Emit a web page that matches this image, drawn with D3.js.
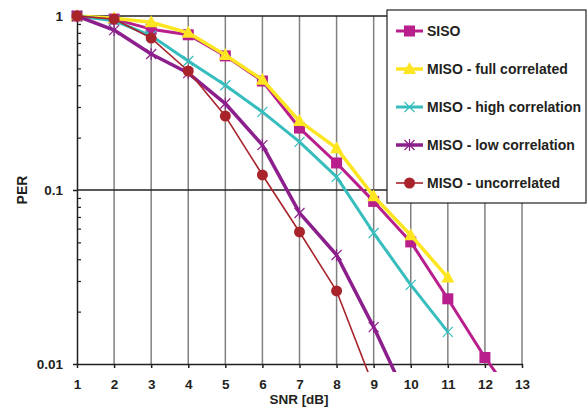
<!DOCTYPE html>
<html><head><meta charset="utf-8">
<script src="https://cdn.jsdelivr.net/npm/d3@7/dist/d3.min.js"></script>
<style>body{margin:0;background:#fff}svg{display:block}text{font-family:"Liberation Sans",Arial,sans-serif;font-weight:bold;fill:#231f20}</style>
</head><body><svg id="c" width="588" height="408"></svg>
<script>
const snr = [1,2,3,4,5,6,7,8,9,10,11,12,13];
const xTicks = [1,2,3,4,5,6,7,8,9,10,11,12,13];
const yTicks = [0.01,0.1,1];
const yTickLabels = ["0.01","0.1","1"];
const siso      = [1,0.96,0.84,0.78,0.59,0.423,0.227,0.143,0.086,0.0503,0.0237,0.0109,0.0055];
const fullCorr  = [1,0.97,0.92,0.80,0.597,0.43,0.249,0.174,0.092,0.055,0.0314];
const highCorr  = [1,0.94,0.77,0.551,0.40,0.281,0.189,0.119,0.0566,0.0285,0.0153];
const lowCorr   = [1,0.83,0.605,0.47,0.314,0.181,0.0738,0.0423,0.0163,0.0057];
const uncorr    = [1,0.96,0.747,0.483,0.266,0.122,0.0574,0.0263,0.0074];
const seriesNames = ["SISO","MISO - full correlated","MISO - high correlation","MISO - low correlation","MISO - uncorrelated"];

const series = [
  {name:seriesNames[0], vals:siso, color:"#b81e8c", w:3, marker:"square"},
  {name:seriesNames[1], vals:fullCorr, color:"#fde521", w:3.5, marker:"triangle"},
  {name:seriesNames[2], vals:highCorr, color:"#36bdbd", w:3, marker:"x"},
  {name:seriesNames[3], vals:lowCorr, color:"#8c1f8c", w:3.5, marker:"star"},
  {name:seriesNames[4], vals:uncorr, color:"#a8232a", w:1.6, marker:"circle"}
];

const FONT = "13.5px";
const svg = d3.select("#c");
const x = d3.scaleLinear().domain([1,13]).range([77,522]);
const y = d3.scaleLog().domain([0.01,1]).range([364,16]);

// vertical grid
svg.append("g").selectAll("line").data(xTicks.slice(1)).join("line")
  .attr("x1",d=>x(d)).attr("x2",d=>x(d)).attr("y1",y(1)).attr("y2",y(0.01))
  .attr("stroke","#808080").attr("stroke-width",1.5);
// horizontal grid
svg.append("g").selectAll("line").data([0.1,1]).join("line")
  .attr("x1",x(1)).attr("x2",x(13)).attr("y1",d=>y(d)).attr("y2",d=>y(d))
  .attr("stroke","#231f20").attr("stroke-width",1.5);

// minor y ticks
const minor = [];
[0.01,0.1].forEach(b=>{for(let k=2;k<10;k++) minor.push(b*k);});
const gMinor = svg.append("g").attr("transform",`translate(${x(1)},0)`)
  .call(d3.axisLeft(y).tickValues(minor).tickSize(-4).tickFormat(""));
gMinor.select(".domain").remove();
gMinor.selectAll("line").attr("stroke","#231f20").attr("stroke-width",1.2);

// y axis
const gy = svg.append("g").attr("transform",`translate(${x(1)},0)`)
  .call(d3.axisLeft(y).tickValues(yTicks).tickSize(4).tickPadding(10).tickSizeOuter(0)
    .tickFormat((d,i)=>yTickLabels[i]));
gy.select(".domain").attr("stroke","#231f20").attr("stroke-width",1.5);
gy.selectAll("line").attr("stroke","#231f20").attr("stroke-width",1.5);
gy.selectAll("text").style("font-size",FONT).style("font-family",'"Liberation Sans",Arial,sans-serif').style("font-weight","bold").attr("fill","#231f20");

// x axis
const gx = svg.append("g").attr("transform",`translate(0,${y(0.01)})`)
  .call(d3.axisBottom(x).tickValues(xTicks).tickSize(4).tickPadding(11).tickSizeOuter(0).tickFormat(d3.format("d")));
gx.select(".domain").attr("stroke","#231f20").attr("stroke-width",1.5);
gx.selectAll("line").attr("stroke","#231f20").attr("stroke-width",1.5);
gx.selectAll("text").style("font-size",FONT).style("font-family",'"Liberation Sans",Arial,sans-serif').style("font-weight","bold").attr("fill","#231f20");

// axis titles
svg.append("text").attr("x",299).attr("y",404).attr("text-anchor","middle").style("font-size","13.5px").text("SNR [dB]");
svg.append("text").attr("transform","translate(27,190) rotate(-90)").attr("text-anchor","middle").style("font-size","14px").text("PER");

// clip
svg.append("clipPath").attr("id","clip").append("rect").attr("x",0).attr("y",0).attr("width",588).attr("height",372);

function drawMarker(g, type, cx, cy, color){
  if(type==="square") g.append("rect").attr("x",cx-5.5).attr("y",cy-5.5).attr("width",11).attr("height",11).attr("fill",color);
  else if(type==="triangle") g.append("path").attr("d",`M${cx},${cy-7}L${cx+6.5},${cy+5}L${cx-6.5},${cy+5}Z`).attr("fill",color);
  else if(type==="circle") g.append("circle").attr("cx",cx).attr("cy",cy).attr("r",5.5).attr("fill",color);
  else if(type==="x") g.append("path").attr("d",`M${cx-5},${cy-5}L${cx+5},${cy+5}M${cx-5},${cy+5}L${cx+5},${cy-5}`).attr("stroke",color).attr("stroke-width",1.2);
  else if(type==="star") g.append("path").attr("d",`M${cx-5},${cy-5}L${cx+5},${cy+5}M${cx-5},${cy+5}L${cx+5},${cy-5}M${cx},${cy-6}L${cx},${cy+6}`).attr("stroke",color).attr("stroke-width",1.2);
}

const line = d3.line().x((d,i)=>x(snr[i])).y(d=>y(d));
const plot = svg.append("g").attr("clip-path","url(#clip)");
series.forEach(s=>{
  plot.append("path").attr("d",line(s.vals)).attr("fill","none").attr("stroke",s.color).attr("stroke-width",s.w).attr("stroke-linejoin","round");
  const mg = plot.append("g");
  s.vals.forEach((v,i)=>{ if(v>=0.0099) drawMarker(mg,s.marker,x(snr[i]),y(v),s.color); });
});

// legend
const lg = svg.append("g");
lg.append("rect").attr("x",387).attr("y",10).attr("width",199).attr("height",193).attr("fill","#fff").attr("stroke","#231f20").attr("stroke-width",1.2);
series.forEach((s,i)=>{
  const ly = 31 + i*38;
  lg.append("line").attr("x1",396).attr("x2",423).attr("y1",ly).attr("y2",ly).attr("stroke",s.color).attr("stroke-width",s.w);
  drawMarker(lg,s.marker,409.5,ly,s.color);
  lg.append("text").attr("x",427).attr("y",ly+5).style("font-size","14px").text(s.name);
});
</script></body></html>
